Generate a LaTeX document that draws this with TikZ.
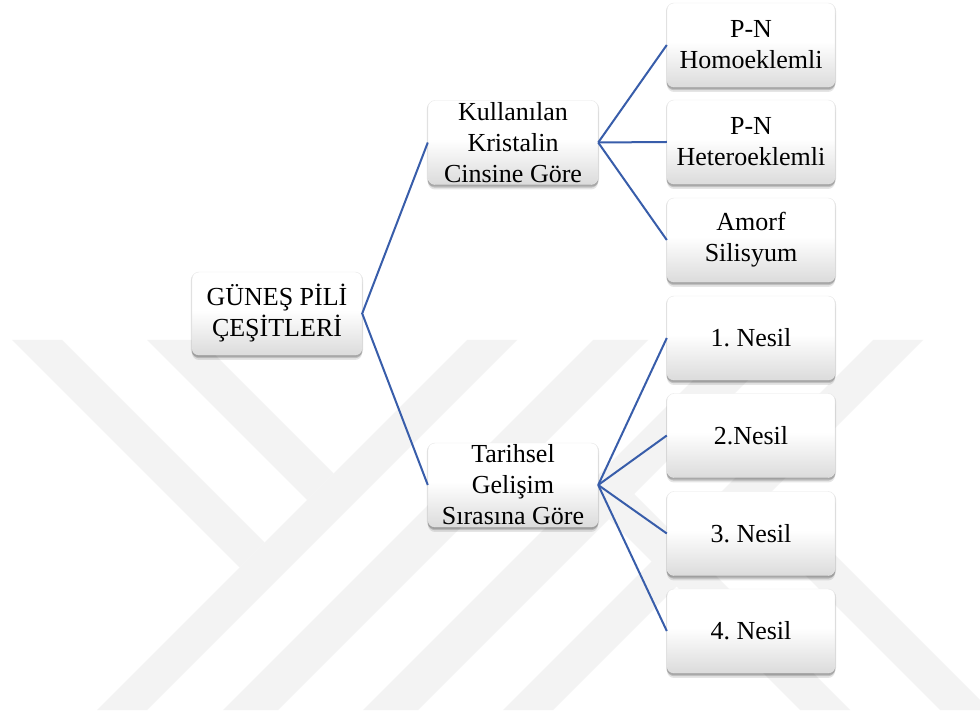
\documentclass[tikz,border=0pt]{standalone}
\usepackage{fontspec}
\setmainfont{Liberation Serif}
\usetikzlibrary{shadows}
\frenchspacing

\definecolor{linkblue}{RGB}{56,93,170}
\definecolor{markgray}{RGB}{243,243,243}

% soft white-to-grey fill of the boxes (bottom grey, upper half white)
\pgfdeclareverticalshading{boxshade}{100bp}{%
  color(0bp)=(black!14); color(25bp)=(black!14); color(52bp)=(white); color(100bp)=(white)}

\tikzset{
  card/.style={
    rectangle, rounded corners=7pt, shading=boxshade,
    draw=black!9, line width=0.4pt,
    align=center, inner sep=0pt,
    font=\fontsize{26}{31}\selectfont,
    general shadow={fill=black, opacity=.10, shadow yshift=-5pt},
    general shadow={fill=black, opacity=.16, shadow yshift=-3.2pt},
    general shadow={fill=black, opacity=.12, shadow yshift=-1.4pt, shadow scale=1.012}
  },
  midcard/.style={card, minimum width=170pt, minimum height=84pt},
  leafcard/.style={card, minimum width=168pt, minimum height=84pt},
  link/.style={draw=linkblue, line width=2pt},
  band/.style={fill=markgray, draw=none}
}

\begin{document}
\begin{tikzpicture}[x=1pt,y=1pt]
\useasboundingbox (0,0) rectangle (980,715);
\fill[white] (0,0) rectangle (980,715);

% faint striped emblem in the background
\begin{scope}
  \clip (0,5) rectangle (980,375);
  \fill[band] (12,375) -- (62,375) -- (264.5,172.5) -- (239.5,147.5) -- cycle;
  \fill[band] (147,375) -- (200,375) -- (333.5,241.5) -- (307,215) -- cycle;
  \fill[band] (467,375) -- (517,375) -- (147,5) -- (97,5) -- cycle;
  \fill[band] (593,375) -- (648,375) -- (278,5) -- (223,5) -- cycle;
  \fill[band] (733,375) -- (788,375) -- (418,5) -- (363,5) -- cycle;
  \fill[band] (873,375) -- (923,375) -- (553,5) -- (503,5) -- cycle;
  \fill[band] (746.5,198.5) -- (771.5,223.5) -- (990,5) -- (940,5) -- cycle;
  \fill[band] (609,196) -- (634,221) -- (850,5) -- (800,5) -- cycle;
\end{scope}

% boxes
\node[card, minimum width=170pt, minimum height=83pt] (root) at (277,401.5) {GÜNEŞ PİLİ\\ÇEŞİTLERİ};
\node[midcard] (crystal) at (513,572.5) {Kullanılan\\Kristalin\\Cinsine Göre};
\node[midcard] (history) at (513,230) {Tarihsel\\Gelişim\\Sırasına Göre};

\node[leafcard] (homo)   at (751,670)   {P-N\\Homoeklemli};
\node[leafcard] (hetero) at (751,573)   {P-N\\Heteroeklemli};
\node[leafcard] (amorf)  at (751,475)   {Amorf\\Silisyum};
\node[leafcard] (gen1)   at (751,377)   {1. Nesil};
\node[leafcard] (gen2)   at (751,279.5) {2.Nesil};
\node[leafcard] (gen3)   at (751,181.5) {3. Nesil};
\node[leafcard] (gen4)   at (751,84)    {4. Nesil};

% connectors
\draw[link] (crystal.west) -- (root.east) -- (history.west);
\foreach \leaf in {homo,hetero,amorf}
  \draw[link] (crystal.east) -- (\leaf.west);
\foreach \leaf in {gen1,gen2,gen3,gen4}
  \draw[link] (history.east) -- (\leaf.west);
\end{tikzpicture}
\end{document}
